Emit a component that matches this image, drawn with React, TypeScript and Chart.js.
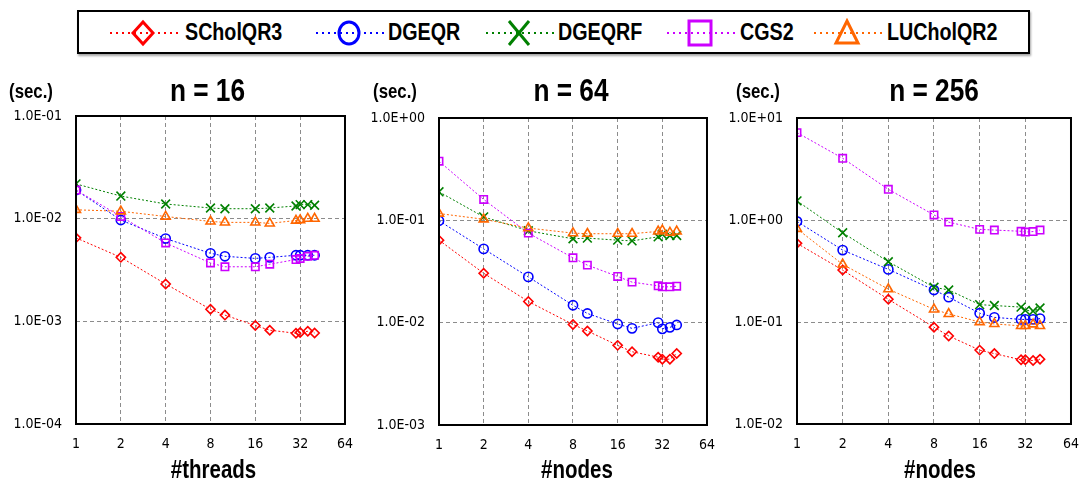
import React, { useEffect, useRef } from "react";
import { Chart, registerables } from "chart.js";

Chart.register(...registerables);

// ---------- data ----------
const xValues = [1, 2, 4, 8, 10, 16, 20, 30, 32, 36, 40];
const xTickValues = [1, 2, 4, 8, 16, 32, 64];

const seriesNames = ["SCholQR3", "DGEQR", "DGEQRF", "CGS2", "LUCholQR2"];

// n = 16 (#threads)
const n16_SCholQR3 = [0.0065, 0.0042, 0.00231, 0.00131, 0.00115, 0.00091, 0.00082, 0.000765, 0.00078, 0.0008, 0.00077];
const n16_DGEQR = [0.019, 0.0097, 0.0064, 0.0046, 0.0043, 0.0041, 0.0042, 0.0044, 0.0044, 0.0044, 0.0044];
const n16_DGEQRF = [0.0218, 0.0166, 0.0139, 0.0127, 0.0125, 0.0125, 0.0127, 0.0133, 0.0137, 0.0137, 0.0135];
const n16_CGS2 = [0.019, 0.0105, 0.0058, 0.0037, 0.0034, 0.0034, 0.0036, 0.004, 0.0041, 0.0043, 0.0044];
const n16_LUCholQR2 = [0.0122, 0.0118, 0.0105, 0.0094, 0.0092, 0.0092, 0.009, 0.0096, 0.0097, 0.01, 0.01];

// n = 64 (#nodes)
const n64_SCholQR3 = [0.064, 0.0304, 0.0161, 0.0096, 0.0083, 0.006, 0.0052, 0.0046, 0.0044, 0.0044, 0.005];
const n64_DGEQR = [0.099, 0.0526, 0.028, 0.0148, 0.0123, 0.0097, 0.0088, 0.01, 0.0087, 0.009, 0.0095];
const n64_DGEQRF = [0.19, 0.108, 0.079, 0.066, 0.067, 0.064, 0.063, 0.069, 0.073, 0.071, 0.071];
const n64_CGS2 = [0.378, 0.16, 0.075, 0.043, 0.0365, 0.0283, 0.0249, 0.0229, 0.0224, 0.0224, 0.0227];
const n64_LUCholQR2 = [0.1165, 0.1025, 0.084, 0.075, 0.074, 0.074, 0.074, 0.078, 0.08, 0.076, 0.078];

// n = 256 (#nodes)
const n256_SCholQR3 = [0.59, 0.323, 0.167, 0.089, 0.073, 0.053, 0.049, 0.0426, 0.0426, 0.0419, 0.0432];
const n256_DGEQR = [0.968, 0.507, 0.328, 0.206, 0.175, 0.122, 0.111, 0.106, 0.106, 0.106, 0.108];
const n256_DGEQRF = [1.54, 0.75, 0.39, 0.219, 0.206, 0.148, 0.145, 0.14, 0.13, 0.128, 0.137];
const n256_CGS2 = [7.19, 4.03, 2.0, 1.12, 0.953, 0.809, 0.797, 0.775, 0.762, 0.77, 0.797];
const n256_LUCholQR2 = [0.82, 0.367, 0.21, 0.133, 0.12, 0.1, 0.0958, 0.0916, 0.0916, 0.095, 0.0916];

const panelTitles = ["n = 16", "n = 64", "n = 256"];
const panelXTitles = ["#threads", "#nodes", "#nodes"];
const panelYTicks = [
  [1e-4, 1e-3, 1e-2, 1e-1],
  [1e-3, 1e-2, 1e-1, 1e0],
  [1e-2, 1e-1, 1e0, 1e1],
];
const panelSeries = [
  [n16_SCholQR3, n16_DGEQR, n16_DGEQRF, n16_CGS2, n16_LUCholQR2],
  [n64_SCholQR3, n64_DGEQR, n64_DGEQRF, n64_CGS2, n64_LUCholQR2],
  [n256_SCholQR3, n256_DGEQR, n256_DGEQRF, n256_CGS2, n256_LUCholQR2],
];

// ---------- styles ----------
const COLORS = ["#ff0000", "#0000ff", "#008000", "#cc00ff", "#ff6600"];
const POINT_STYLES = ["rectRot", "circle", "crossRot", "rect", "triangle"];
const POINT_RADII = [4.6, 4.6, 6.2, 5.2, 5.2];

const TICK_FONT = "'DejaVu Sans Condensed', 'Liberation Sans', sans-serif";
const BOLD_FONT = "'Liberation Sans', Arial, sans-serif";
const NARROW_SCALE = 0.82;

// page-coordinate layout of each panel
const LAYOUT = [
  { canvasLeft: 0, canvasWidth: 365, l: 76, r: 359, t: 116, b: 424, titleX: 207.5, secX: 31, xTitleX: 213.5 },
  { canvasLeft: 365, canvasWidth: 362, l: 439, r: 722, t: 118, b: 425, titleX: 571, secX: 395, xTitleX: 577 },
  { canvasLeft: 727, canvasWidth: 364, l: 797, r: 1083, t: 118, b: 424, titleX: 934, secX: 758, xTitleX: 940 },
];
const CANVAS_TOP = 60;
const CANVAS_H = 421;

function fmtExp(v: number): string {
  const e = Math.round(Math.log10(v));
  return "1.0E" + (e < 0 ? "-" : "+") + String(Math.abs(e)).padStart(2, "0");
}

function drawNarrow(ctx: CanvasRenderingContext2D, text: string, x: number, y: number, size: number) {
  ctx.save();
  ctx.translate(x, y);
  ctx.scale(NARROW_SCALE, 1);
  ctx.font = `bold ${size}px ${BOLD_FONT}`;
  ctx.fillStyle = "#000";
  ctx.textAlign = "center";
  ctx.textBaseline = "middle";
  ctx.fillText(text, 0, 0);
  ctx.restore();
}

function Panel({ idx }: { idx: number }) {
  const ref = useRef<HTMLCanvasElement>(null);
  const lay = LAYOUT[idx];
  useEffect(() => {
    const yt = panelYTicks[idx];
    const decor = {
      id: "decor" + idx,
      afterDraw(chart: any) {
        const { ctx, chartArea } = chart;
        ctx.save();
        ctx.strokeStyle = "#000";
        ctx.lineWidth = 2;
        ctx.setLineDash([]);
        ctx.strokeRect(chartArea.left, chartArea.top, chartArea.right - chartArea.left, chartArea.bottom - chartArea.top);
        ctx.restore();
        drawNarrow(ctx, panelTitles[idx], lay.titleX - lay.canvasLeft, 92 - CANVAS_TOP, 32);
        drawNarrow(ctx, "(sec.)", lay.secX - lay.canvasLeft, 92 - CANVAS_TOP, 20.5);
        drawNarrow(ctx, panelXTitles[idx], lay.xTitleX - lay.canvasLeft, 471 - CANVAS_TOP, 25);
      },
    };
    const datasets = seriesNames.map((name, i) => ({
      label: name,
      data: xValues.map((x, j) => ({ x, y: panelSeries[idx][i][j] })),
      borderColor: COLORS[i],
      backgroundColor: "rgba(0,0,0,0)",
      borderWidth: 1,
      borderDash: [2, 2],
      pointStyle: POINT_STYLES[i],
      pointRadius: POINT_RADII[i],
      pointBorderWidth: 1.6,
      pointBorderColor: COLORS[i],
      pointBackgroundColor: "rgba(0,0,0,0)",
      order: 5 - i,
      fill: false,
      tension: 0,
    }));
    const chart = new Chart(ref.current!, {
      type: "line",
      data: { datasets },
      options: {
        responsive: false,
        animation: false,
        events: [],
        layout: {
          padding: {
            top: lay.t - CANVAS_TOP,
            right: lay.canvasLeft + lay.canvasWidth - lay.r,
            left: 0,
            bottom: 0,
          },
        },
        plugins: { legend: { display: false }, tooltip: { enabled: false }, title: { display: false } },
        scales: {
          x: {
            type: "logarithmic",
            min: 1,
            max: 64,
            afterBuildTicks: (s: any) => {
              s.ticks = xTickValues.map((v) => ({ value: v }));
            },
            afterFit: (s: any) => {
              s.height = CANVAS_TOP + CANVAS_H - lay.b;
            },
            ticks: {
              autoSkip: false,
              maxRotation: 0,
              padding: 12,
              color: "#000",
              font: { family: TICK_FONT, size: 14 },
              callback: (v: any) => String(v),
            },
            grid: { color: "#8c8c8c", lineWidth: 1, drawTicks: false },
            border: { display: false, dash: [4, 3] },
          },
          y: {
            type: "logarithmic",
            min: yt[0],
            max: yt[yt.length - 1],
            afterBuildTicks: (s: any) => {
              s.ticks = yt.map((v) => ({ value: v }));
            },
            afterFit: (s: any) => {
              s.width = lay.l - lay.canvasLeft;
            },
            ticks: {
              autoSkip: false,
              padding: 14,
              color: "#000",
              font: { family: TICK_FONT, size: 14 },
              callback: (v: any) => fmtExp(Number(v)),
            },
            grid: { color: "#8c8c8c", lineWidth: 1, drawTicks: false },
            border: { display: false, dash: [4, 3] },
          },
        },
      },
      plugins: [decor],
    } as any);
    return () => chart.destroy();
  }, []);
  return (
    <canvas
      ref={ref}
      width={lay.canvasWidth}
      height={CANVAS_H}
      style={{ position: "absolute", left: lay.canvasLeft, top: CANVAS_TOP, width: lay.canvasWidth, height: CANVAS_H }}
    />
  );
}

function LegendIcon({ i }: { i: number }) {
  const c = COLORS[i];
  const cx = 34;
  const cy = 15;
  let shape: any = null;
  if (i === 0) shape = <polygon points={`${cx},${cy - 11} ${cx + 10},${cy} ${cx},${cy + 11} ${cx - 10},${cy}`} fill="none" stroke={c} strokeWidth={3} />;
  if (i === 1) shape = <ellipse cx={cx} cy={cy} rx={10} ry={11} fill="none" stroke={c} strokeWidth={3} />;
  if (i === 2)
    shape = (
      <g stroke={c} strokeWidth={3}>
        <line x1={cx - 10} y1={cy - 12} x2={cx + 10} y2={cy + 12} />
        <line x1={cx + 10} y1={cy - 12} x2={cx - 10} y2={cy + 12} />
      </g>
    );
  if (i === 3) shape = <rect x={cx - 11} y={cy - 12} width={22} height={24} fill="none" stroke={c} strokeWidth={3} />;
  if (i === 4) shape = <polygon points={`${cx},${cy - 12} ${cx + 11},${cy + 10} ${cx - 11},${cy + 10}`} fill="none" stroke={c} strokeWidth={3} />;
  return (
    <svg width={70} height={30} style={{ display: "block" }}>
      <line x1={1} y1={cy} x2={69} y2={cy} stroke={c} strokeWidth={2} strokeDasharray="2,4" />
      {shape}
    </svg>
  );
}

const LEGEND_ICON_X = [109, 315, 485, 666, 813];
const LEGEND_TEXT_X = [185, 388, 558, 740, 887];

function Legend() {
  return (
    <div
      style={{
        position: "absolute",
        left: 77,
        top: 10,
        width: 953,
        height: 44,
        boxSizing: "border-box",
        border: "2px solid #000",
        boxShadow: "1px 2px 2px rgba(0,0,0,0.35)",
        background: "#fff",
      }}
    >
      {seriesNames.map((name, i) => (
        <React.Fragment key={name}>
          <div style={{ position: "absolute", left: LEGEND_ICON_X[i] - 79, top: 6 }}>
            <LegendIcon i={i} />
          </div>
          <div
            style={{
              position: "absolute",
              left: LEGEND_TEXT_X[i] - 79,
              top: 0,
              height: 40,
              lineHeight: "40px",
              fontFamily: BOLD_FONT,
              fontWeight: "bold",
              fontSize: 24,
              color: "#000",
              whiteSpace: "nowrap",
              transform: `scaleX(${NARROW_SCALE})`,
              transformOrigin: "left center",
            }}
          >
            {name}
          </div>
        </React.Fragment>
      ))}
    </div>
  );
}

export default function App() {
  return (
    <div style={{ position: "fixed", left: 0, top: 0, width: 1091, height: 481, background: "#fff", overflow: "hidden" }}>
      <Legend />
      <Panel idx={0} />
      <Panel idx={1} />
      <Panel idx={2} />
    </div>
  );
}
